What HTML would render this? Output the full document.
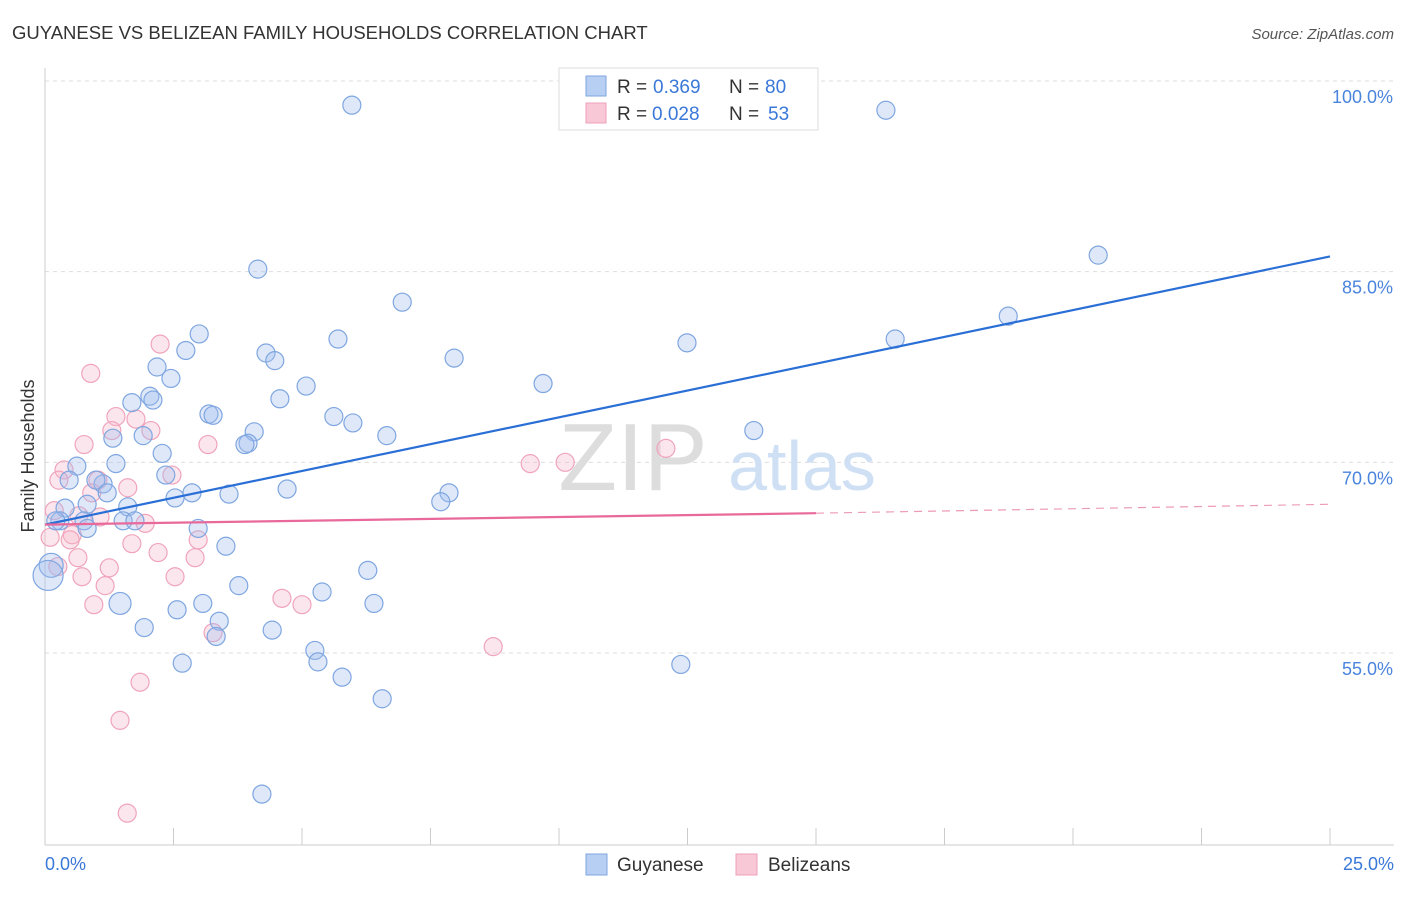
<!DOCTYPE html>
<html><head><meta charset="utf-8"><style>
body{margin:0;background:#fff;font-family:"Liberation Sans",sans-serif;}
svg text{font-family:"Liberation Sans",sans-serif;}
</style></head><body>
<svg id="c" width="1406" height="892">
<text x="12" y="39" font-size="18.5" fill="#333">GUYANESE VS BELIZEAN FAMILY HOUSEHOLDS CORRELATION CHART</text>
<text x="1394" y="39" font-size="15" fill="#555" font-style="italic" text-anchor="end">Source: ZipAtlas.com</text>
<g id="grid"></g>
<text x="633" y="490" font-size="96" fill="#ddd" font-family="Liberation Serif" text-anchor="middle">ZIP</text>
<text x="802" y="490" font-size="70" fill="#cfe0f5" text-anchor="middle">atlas</text>
<g id="pts"></g>
<g id="trend"></g>
<text x="34" y="456" font-size="18" fill="#333" transform="rotate(-90 34 456)" text-anchor="middle">Family Households</text>
<text x="45" y="870" font-size="18" fill="#3a78d8">0.0%</text>
<text x="1394" y="870" font-size="18" fill="#3a78d8" text-anchor="end">25.0%</text>
<g>
<rect x="559" y="68" width="259" height="62" fill="#fff" stroke="#ddd"/>
<rect x="586" y="76" width="20" height="20" fill="#b7cff3" stroke="#7fa6e0"/>
<rect x="586" y="103" width="20" height="20" fill="#f8c8d6" stroke="#eea0b8"/>
<text x="617" y="93" font-size="19" fill="#333">R =</text>
<text x="653" y="93" font-size="19" fill="#3a78d8">0.369</text>
<text x="729" y="93" font-size="19" fill="#333">N =</text>
<text x="765" y="93" font-size="19" fill="#3a78d8">80</text>
<text x="617" y="120" font-size="19" fill="#333">R =</text>
<text x="652" y="120" font-size="19" fill="#3a78d8">0.028</text>
<text x="729" y="120" font-size="19" fill="#333">N =</text>
<text x="768" y="120" font-size="19" fill="#3a78d8">53</text>
</g>
<g>
<rect x="586" y="854" width="21" height="21" fill="#b7cff3" stroke="#7fa6e0"/>
<text x="617" y="871" font-size="19" fill="#333">Guyanese</text>
<rect x="736" y="854" width="21" height="21" fill="#f8c8d6" stroke="#eea0b8"/>
<text x="768" y="871" font-size="19" fill="#333">Belizeans</text>
</g>
</svg>
<script>
const yTicks=[55,70,85,100];
const yTickLabels=["55.0%","70.0%","85.0%","100.0%"];
const xTicks=[0,2.5,5,7.5,10,12.5,15,17.5,20,22.5,25];
const blueX=[5.97,16.36,4.14,20.49,6.95,18.74,16.54,3.00,5.70,12.49,2.74,4.30,4.47,7.96,2.18,2.45,9.69,5.08,2.04,1.69,2.10,4.57,3.19,3.27,5.62,5.99,1.91,4.07,6.65,3.95,3.89,13.79,1.32,2.28,0.62,1.38,2.35,0.47,1.13,0.99,1.21,2.86,2.53,3.58,4.71,7.86,7.70,0.39,0.82,1.61,0.29,0.76,1.52,1.75,2.98,0.82,0.21,3.52,0.12,0.06,3.77,5.39,6.28,1.46,3.07,6.40,2.57,3.39,1.93,4.42,3.33,5.25,5.31,2.67,12.37,5.78,6.56,4.22];
const blueY=[98.1,97.7,85.2,86.3,82.6,81.5,79.7,80.1,79.7,79.4,78.8,78.6,78.0,78.2,77.5,76.6,76.2,76.0,75.2,74.7,74.9,75.0,73.8,73.7,73.6,73.1,72.1,72.4,72.1,71.5,71.4,72.5,71.9,70.7,69.7,69.9,69.0,68.6,68.3,68.6,67.6,67.6,67.2,67.5,67.9,67.6,66.9,66.4,66.7,66.5,65.4,65.4,65.4,65.4,64.8,64.8,65.4,63.4,61.9,61.1,60.3,59.8,61.5,58.9,58.9,58.9,58.4,57.5,57.0,56.8,56.3,55.2,54.3,54.2,54.1,53.1,51.4,43.9];
const blueR=[9,9,9,9,9,9,9,9,9,9,9,9,9,9,9,9,9,9,9,9,9,9,9,9,9,9,9,9,9,9,9,9,9,9,9,9,9,9,9,9,9,9,9,9,9,9,9,9,9,9,9,9,9,9,9,9,9,9,12,15,9,9,9,11,9,9,9,9,9,9,9,9,9,9,9,9,9,9];
const pinkX=[2.24,0.89,1.38,1.77,1.30,2.06,0.76,3.17,0.37,2.47,1.03,0.27,0.91,1.61,9.44,10.12,12.08,1.07,0.66,1.95,0.18,0.53,0.49,0.10,1.69,2.98,2.20,0.64,2.92,1.25,0.25,0.72,2.53,1.17,4.61,5.00,0.95,3.27,8.72,1.85,1.46,1.60];
const pinkY=[79.3,77.0,73.6,73.4,72.5,72.5,71.4,71.4,69.4,69.0,68.6,68.6,67.6,68.0,69.9,70.0,71.1,65.7,65.8,65.2,66.2,64.3,63.9,64.1,63.6,63.9,62.9,62.5,62.5,61.7,61.8,61.0,61.0,60.3,59.3,58.8,58.8,56.6,55.5,52.7,49.7,42.4];
const blueTrend=[65.1,86.2];
const pinkTrend=[65.1,66.0,66.7];
const X0=45,X1=1330;
const xs=v=>X0+(X1-X0)*v/25;
const ys=v=>653-(v-55)*(653-81)/45;
const NS="http://www.w3.org/2000/svg";
function mk(t,a,p){const e=document.createElementNS(NS,t);for(const k in a)e.setAttribute(k,a[k]);p.appendChild(e);return e;}
const g=document.getElementById('grid');
yTicks.forEach((v,i)=>{
 const l=mk('line',{x1:X0,x2:1394,y1:ys(v),y2:ys(v),stroke:'#ddd','stroke-dasharray':'4,4'},g);
 
 
 const t=mk('text',{x:1393,y:ys(v)+22,'font-size':18,fill:'#4a84dc','text-anchor':'end'},g);
 t.textContent=yTickLabels[i];
 
 
});
const ax=mk('line',{x1:X0,x2:X0,y1:68,y2:845,stroke:'#ccc'},g);


const bx=mk('line',{x1:X0,x2:1394,y1:845,y2:845,stroke:'#ccc'},g);


xTicks.forEach(v=>{
 const l=mk('line',{x1:xs(v),x2:xs(v),y1:828,y2:845,stroke:'#ccc'},g);
 
 
});
const p=document.getElementById('pts');
pinkX.forEach((x,i)=>{
 const c=mk('circle',{cx:xs(x),cy:ys(pinkY[i]),r:9,fill:'rgba(246,182,202,0.35)',stroke:'#f0a4bc','stroke-width':1.2},p);
 
 
});
blueX.forEach((x,i)=>{
 const c=mk('circle',{cx:xs(x),cy:ys(blueY[i]),r:blueR[i],fill:'rgba(160,190,238,0.35)',stroke:'#7fa6e0','stroke-width':1.2},p);
 
 
});
const tr=document.getElementById('trend');
const bl=mk('line',{x1:xs(0),y1:ys(blueTrend[0]),x2:xs(25),y2:ys(blueTrend[1]),stroke:'#2a6fd6','stroke-width':2.2},tr);


const pl=mk('line',{x1:xs(0),y1:ys(pinkTrend[0]),x2:xs(15),y2:ys(pinkTrend[1]),stroke:'#e8699a','stroke-width':2.2},tr);


const pd=mk('line',{x1:xs(15),y1:ys(pinkTrend[1]),x2:xs(25),y2:ys(pinkTrend[2]),stroke:'#ec9ab8','stroke-width':1.2,'stroke-dasharray':'8,6'},tr);


</script>
</body></html>
